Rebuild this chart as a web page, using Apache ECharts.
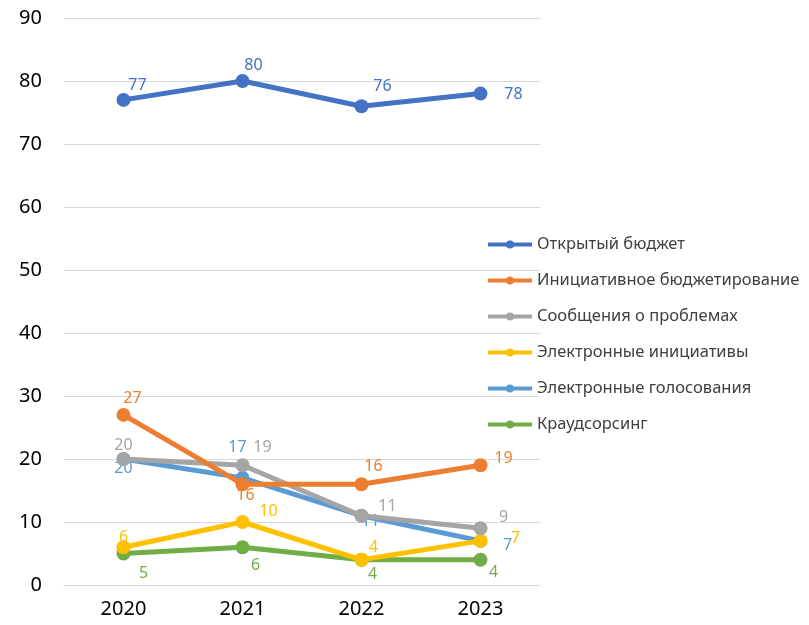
<!DOCTYPE html>
<html>
<head>
<meta charset="utf-8">
<script src="https://cdn.jsdelivr.net/npm/echarts@6/dist/echarts.min.js"></script>
<style>
  html, body { margin: 0; padding: 0; background: #fff; }
  #chart { width: 809px; height: 625px; }
</style>
</head>
<body>
<div id="chart"></div>
<script>
const years = ["2020", "2021", "2022", "2023"];
const seriesNames = [
  "Открытый бюджет",
  "Инициативное бюджетирование",
  "Сообщения о проблемах",
  "Электронные инициативы",
  "Электронные голосования",
  "Краудсорсинг"
];
const openBudget = [77, 80, 76, 78];
const initiativeBudgeting = [27, 16, 16, 19];
const problemReports = [20, 19, 11, 9];
const eInitiatives = [6, 10, 4, 7];
const eVoting = [20, 17, 11, 7];
const crowdsourcing = [5, 6, 4, 4];

const colors = ["#4472C4", "#ED7D31", "#A5A5A5", "#FFC000", "#5B9BD5", "#70AD47"];
// label offsets (px) from each point, like the excel placement
const labelOffsets = [
  [[14, -14], [11, -16], [21, -20], [33, 1]],
  [[9, -16], [3, 11], [12, -18], [23, -7]],
  [[0, -14], [20, -18], [26, -9], [23, -11]],
  [[0, -10], [26, -11], [12, -12], [35, -2]],
  [[0, 9], [-5, -30], [9, 6], [27, 5]],
  [[20, 20], [13, 18], [11, 15], [13, 13]]
];
const allValues = [openBudget, initiativeBudgeting, problemReports, eInitiatives, eVoting, crowdsourcing];

const chart = echarts.init(document.getElementById("chart"));

const series = allValues.map((vals, i) => ({
  name: seriesNames[i],
  type: "line",
  symbol: "circle",
  symbolSize: 14,
  z: 10 - i,
  lineStyle: { width: 5, color: colors[i] },
  itemStyle: { color: colors[i] },
  data: vals.map((v, j) => ({
    value: v,
    label: { offset: labelOffsets[i][j] }
  })),
  label: {
    show: true,
    position: "inside",
    align: "center",
    verticalAlign: "middle",
    color: colors[i],
    fontSize: 16,
    fontFamily: "Noto Sans"
  },
  emphasis: { disabled: true }
}));

chart.setOption({
  animation: false,
  grid: { left: 64, top: 18, width: 476, height: 567 },
  legend: {
    orient: "vertical",
    left: 481,
    top: 231,
    itemWidth: 44,
    itemHeight: 10,
    itemGap: 19,
    lineStyle: { width: 4 },
    textStyle: { fontSize: 16.5, color: "#404040", fontFamily: "Noto Sans" },
    data: seriesNames
  },
  xAxis: {
    type: "category",
    data: years,
    axisLine: { lineStyle: { color: "#d9d9d9" } },
    axisTick: { show: false },
    axisLabel: { fontSize: 20, color: "#000", margin: 14, fontFamily: "Noto Sans" }
  },
  yAxis: {
    type: "value",
    min: 0,
    max: 90,
    interval: 10,
    axisLine: { show: false },
    axisTick: { show: false },
    splitLine: { lineStyle: { color: "#d9d9d9", width: 1 } },
    axisLabel: { fontSize: 20, color: "#000", margin: 22, fontFamily: "Noto Sans" }
  },
  series: series
});
</script>
</body>
</html>
